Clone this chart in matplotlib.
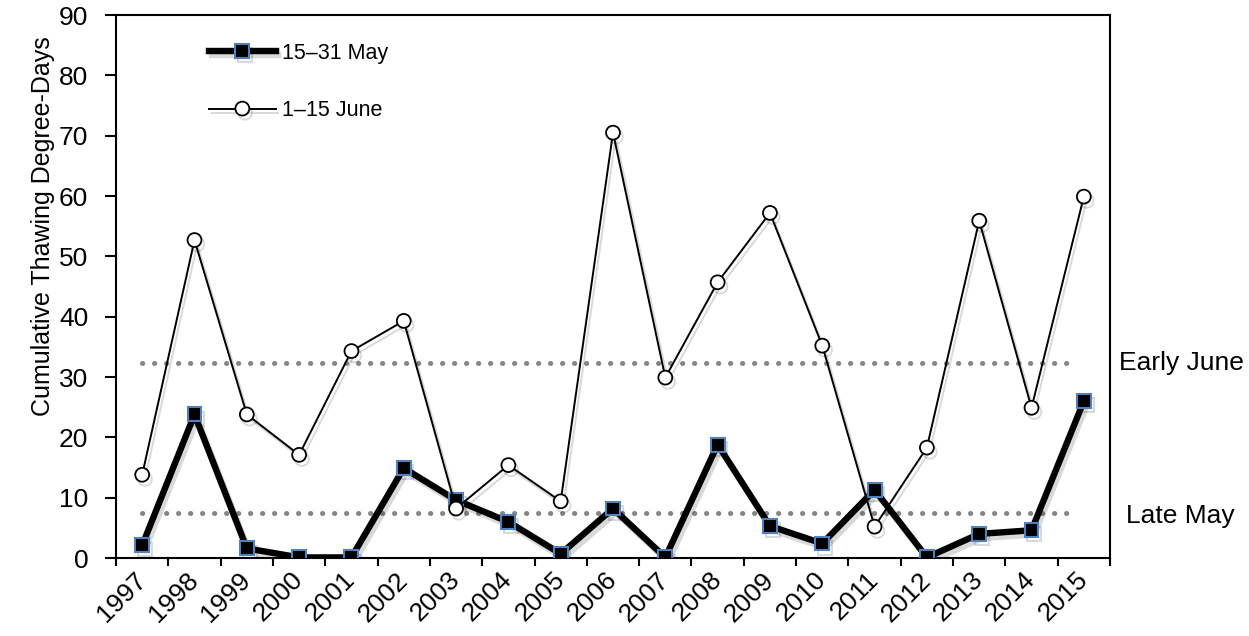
import matplotlib
matplotlib.use("Agg")
import matplotlib.pyplot as plt
import matplotlib.patheffects as pe
import matplotlib.transforms as mtransforms
import numpy as np

plt.rcParams['font.family'] = ['Liberation Sans', 'DejaVu Sans']

years = ['1997', '1998', '1999', '2000', '2001', '2002', '2003', '2004', '2005', '2006',
         '2007', '2008', '2009', '2010', '2011', '2012', '2013', '2014', '2015']

late_may = [2.1, 23.8, 1.6, 0.1, 0.1, 14.9, 9.6, 6.0, 0.7, 8.2,
            0.1, 18.8, 5.3, 2.4, 11.3, 0.1, 4.0, 4.6, 26.0]

early_june = [13.8, 52.7, 23.8, 17.1, 34.3, 39.3, 8.2, 15.4, 9.4, 70.5,
              29.9, 45.7, 57.2, 35.2, 5.2, 18.3, 55.9, 24.9, 59.9]

mean_late_may = 7.4
mean_early_june = 32.4

series_labels = ['15\u201331 May', '1\u201315 June']
ref_labels = ['Late May', 'Early June']
y_label = 'Cumulative Thawing Degree-Days'

fig = plt.figure(figsize=(12.49, 6.36), dpi=100)
ax = fig.add_axes([0.0929, 0.1226, 0.7958, 0.8538])

x = np.arange(len(years))

shadow = [pe.SimpleLineShadow(offset=(2, -3), shadow_color='black', alpha=0.15), pe.Normal()]

# Mean reference lines (round dots)
for val in (mean_late_may, mean_early_june):
    ax.plot([x[0], x[-1] - 0.15], [val, val], color='#858585', lw=3.6,
            linestyle=(0, (0.05, 2.35)), dash_capstyle='round', zorder=1)

ax.plot(x, late_may, color='black', lw=4.6, marker='s', markersize=10,
        markerfacecolor='black', markeredgecolor='#4f81bd', markeredgewidth=1.5,
        label=series_labels[0], zorder=3, path_effects=shadow)
ax.plot(x, early_june, color='black', lw=1.4, marker='o', markersize=10,
        markerfacecolor='white', markeredgecolor='black', markeredgewidth=1.3,
        label=series_labels[1], zorder=4, path_effects=shadow)

ax.set_xlim(-0.5, len(years) - 0.5)
ax.set_ylim(0, 90)
ax.set_yticks(np.arange(0, 91, 10))

ax.set_xticks(x)
ax.set_xticklabels(years, rotation=45, ha='right', va='center', rotation_mode='anchor')
ax.set_xticks(np.arange(-0.5, len(years), 1.0), minor=True)
ax.tick_params(axis='x', which='major', length=0, pad=13, labelsize=19)
ax.tick_params(axis='x', which='minor', length=6, width=1.5, direction='out')
ax.tick_params(axis='y', length=8, width=1.5, direction='out', pad=12, labelsize=19)

for sp in ax.spines.values():
    sp.set_linewidth(1.5)
    sp.set_color('black')

ax.set_ylabel(y_label, fontsize=18)
ax.yaxis.set_label_coords(-0.061, 0.611)

trans = mtransforms.blended_transform_factory(ax.transAxes, ax.transData)
ax.text(1.016, mean_late_may - 0.5, ref_labels[0], transform=trans, fontsize=19,
        va='center', ha='left', clip_on=False)
ax.text(1.009, mean_early_june, ref_labels[1], transform=trans, fontsize=19,
        va='center', ha='left', clip_on=False)

leg = ax.legend(loc='upper left', bbox_to_anchor=(0.074, 0.985), frameon=False,
                fontsize=15.5, handlelength=3.1, handletextpad=0.3, labelspacing=1.7)

fig.savefig('out.png', dpi=100, facecolor='white')
